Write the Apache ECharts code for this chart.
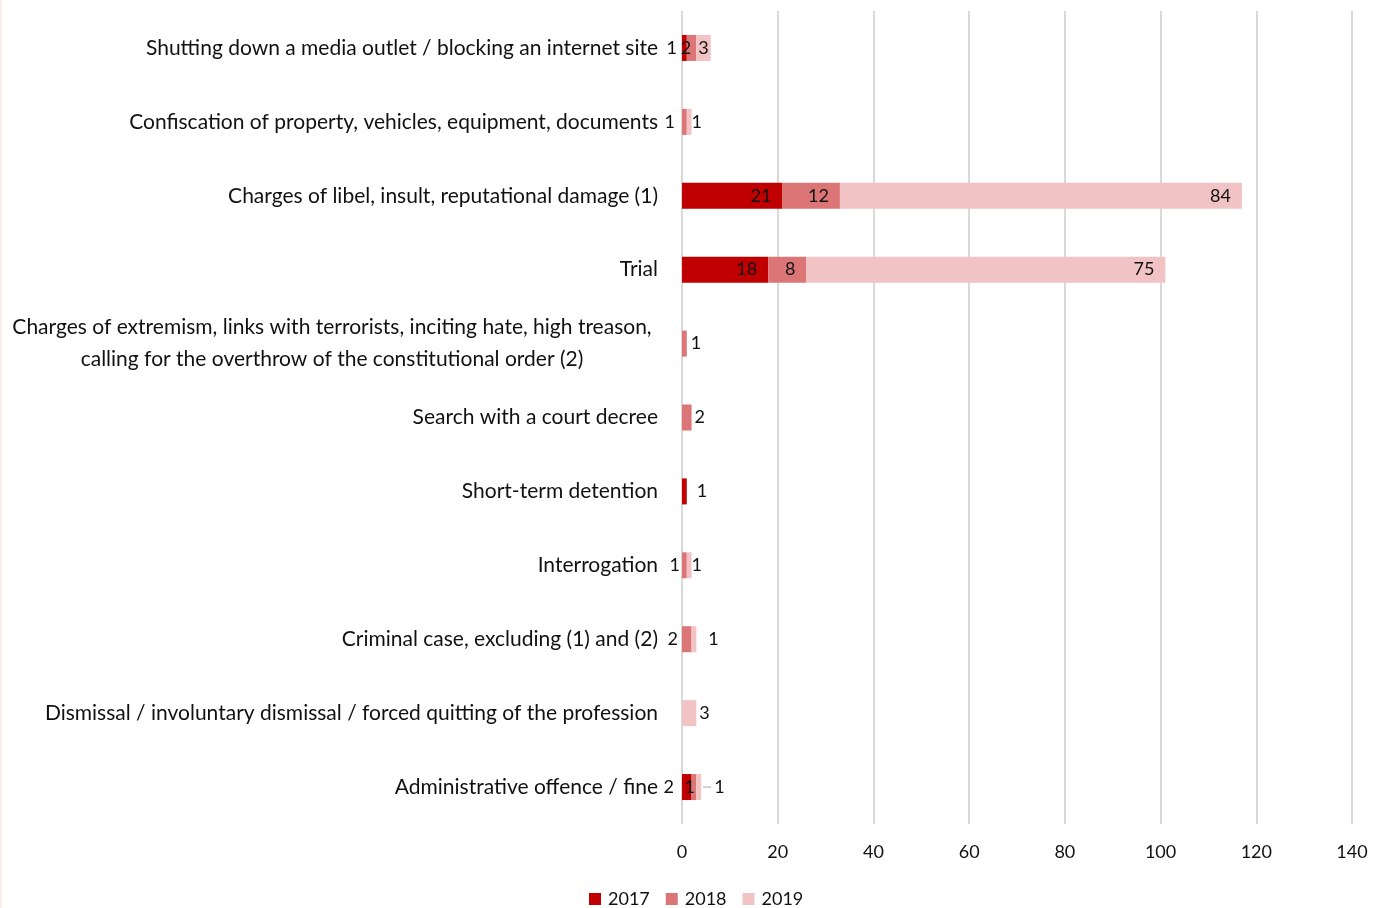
<!DOCTYPE html>
<html>
<head>
<meta charset="utf-8">
<script src="https://cdn.jsdelivr.net/npm/echarts@6/dist/echarts.min.js"></script>
<style>
  html, body { margin: 0; padding: 0; background: #fff; }
  #chart { width: 1384px; height: 908px; box-sizing: border-box; border-left: 2px solid #fcecec; }
</style>
</head>
<body>
<div id="chart"></div>
<script>
// Pressure types faced by journalists, counted per year
const categories = [
  'Shutting down a media outlet / blocking an internet site',
  'Confiscation of property, vehicles, equipment, documents',
  'Charges of libel, insult, reputational damage (1)',
  'Trial',
  'Charges of extremism, links with terrorists, inciting hate, high treason,\ncalling for the overthrow of the constitutional order (2)',
  'Search with a court decree',
  'Short-term detention',
  'Interrogation',
  'Criminal case, excluding (1) and (2)',
  'Dismissal / involuntary dismissal / forced quitting of the profession',
  'Administrative offence / fine'
];
const years = ['2017', '2018', '2019'];
const values2017 = [1, 0, 21, 18, 0, 0, 1, 0, 0, 0, 2];
const values2018 = [2, 1, 12, 8, 1, 2, 0, 1, 2, 0, 1];
const values2019 = [3, 1, 84, 75, 0, 0, 0, 1, 1, 3, 1];
const xTicks = [0, 20, 40, 60, 80, 100, 120, 140];

const colors = ['#C00000', '#DC7676', '#F1C3C5'];

// Where each value label sits (series index -> category index -> placement)
const labelPlacement = {
  0: { 0: { position: 'left', distance: 5 }, 2: { position: 'insideRight', distance: 11 },
       3: { position: 'insideRight', distance: 11 }, 6: { position: 'right', distance: 10 },
       10: { position: 'left', distance: 8 } },
  1: { 0: { position: 'insideLeft', distance: 0, offset: [-6, 0] }, 1: { position: 'left', distance: 7 },
       2: { position: 'insideRight', distance: 11 }, 3: { position: 'insideRight', distance: 11 },
       4: { position: 'right', distance: 4 }, 5: { position: 'right', distance: 3 },
       7: { position: 'left', distance: 2 }, 8: { position: 'left', distance: 4 },
       10: { position: 'insideLeft', distance: 0, offset: [-7, 0] } },
  2: { 0: { position: 'inside' }, 1: { position: 'right', distance: 0 },
       2: { position: 'insideRight', distance: 11 }, 3: { position: 'insideRight', distance: 11 },
       7: { position: 'right', distance: 0 }, 8: { position: 'right', distance: 12 },
       9: { position: 'right', distance: 3 }, 10: { position: 'right', distance: 2, leader: true } }
};

const FONT = 'Lato, "Open Sans", sans-serif';

function buildData(values, si) {
  return values.map((v, i) => {
    const p = labelPlacement[si][i];
    const item = { value: v };
    if (!p) {
      item.label = { show: false };
      return item;
    }
    const lbl = { show: v > 0, position: p.position };
    if (p.distance !== undefined) lbl.distance = p.distance;
    if (p.offset) lbl.offset = p.offset;
    if (p.leader) {
      // short grey guide line drawn in front of the number
      lbl.formatter = '{l|}{n|' + v + '}';
      lbl.rich = {
        l: { width: 8, height: 1, backgroundColor: '#a6a6a6' },
        n: { fontSize: 18, color: '#111', fontFamily: FONT, padding: [0, 0, 0, 3] }
      };
    }
    item.label = lbl;
    return item;
  });
}

const seriesValues = [values2017, values2018, values2019];

const chart = echarts.init(document.getElementById('chart'), null, { renderer: 'canvas' });

chart.setOption({
  animation: false,
  color: colors,
  textStyle: { fontFamily: FONT },
  grid: { left: 680, right: 32, top: 11, bottom: 84, containLabel: false },
  legend: {
    data: years,
    top: 890,
    left: 587,
    padding: 0,
    icon: 'rect',
    itemWidth: 12,
    itemHeight: 12,
    itemGap: 16,
    textStyle: { fontSize: 18, color: '#111', fontFamily: FONT, padding: [0, 0, 0, 2] }
  },
  xAxis: {
    type: 'value',
    min: xTicks[0],
    max: xTicks[xTicks.length - 1],
    interval: xTicks[1] - xTicks[0],
    axisLine: { show: false },
    axisTick: { show: false },
    axisLabel: { fontSize: 18, color: '#111', margin: 19, fontFamily: FONT },
    splitLine: { show: true, lineStyle: { color: '#d9d9d9', width: 2 } }
  },
  yAxis: {
    type: 'category',
    data: categories,
    inverse: true,
    axisLine: { show: false },
    axisTick: { show: false },
    axisLabel: {
      fontSize: 21,
      color: '#111',
      margin: 24,
      fontFamily: FONT,
      lineHeight: 32,
      formatter: function (val) {
        if (val.indexOf('\n') >= 0) {
          return val.split('\n').map(s => '{c|' + s + '}').join('\n');
        }
        return val;
      },
      rich: {
        c: { width: 652, align: 'center', fontSize: 21, lineHeight: 32, fontFamily: FONT, color: '#111' }
      }
    }
  },
  series: seriesValues.map((vals, si) => ({
    name: years[si],
    type: 'bar',
    stack: 'total',
    barWidth: 26,
    data: buildData(vals, si),
    itemStyle: { color: colors[si] },
    label: {
      show: true,
      fontSize: 18,
      color: '#111',
      fontFamily: FONT,
      formatter: p => (p.value > 0 ? String(p.value) : '')
    },
    z: 2
  }))
});
</script>
</body>
</html>
